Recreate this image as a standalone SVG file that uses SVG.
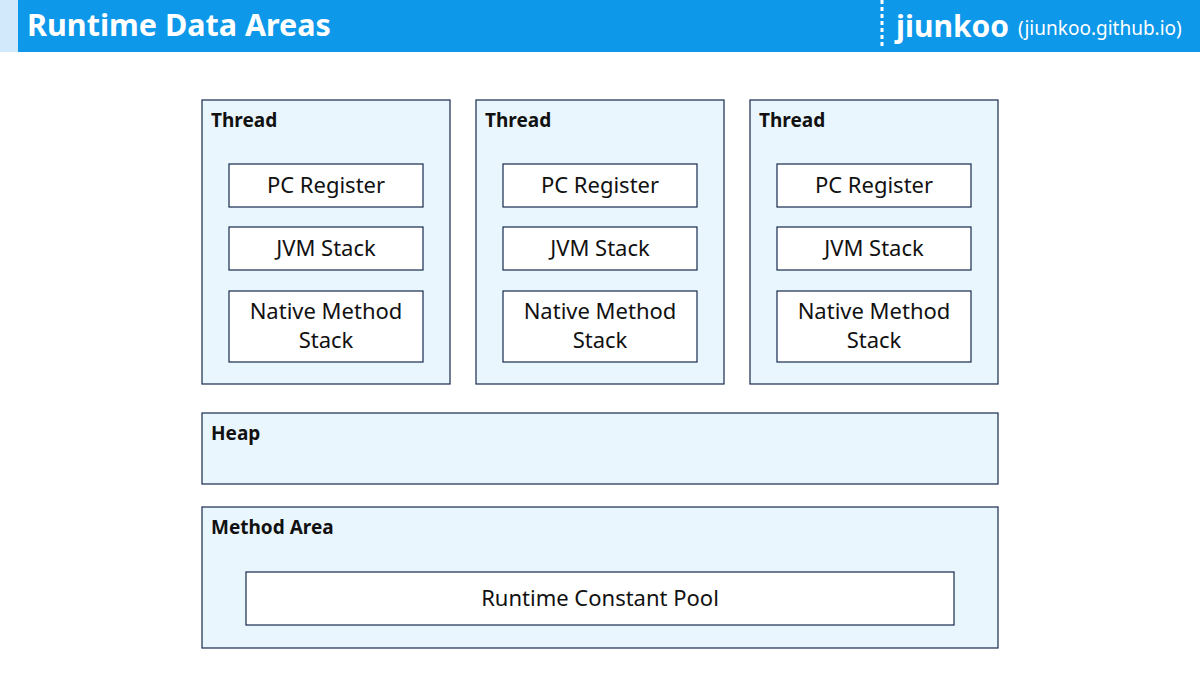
<svg xmlns="http://www.w3.org/2000/svg" width="1200" height="675" viewBox="0 0 1200 675">
  <style>
    .area { fill: #eaf6fd; stroke: #142a4d; stroke-width: 1.2; }
    .box { fill: #ffffff; stroke: #142a4d; stroke-width: 1.2; }
    .label { font-family: "Noto Sans", "Open Sans", sans-serif; font-size: 19px; font-weight: 700; fill: #111111; }
    .item { font-family: "Noto Sans", "Open Sans", sans-serif; font-size: 22px; fill: #111111; text-anchor: middle; }
    .title { font-family: "Noto Sans", "Open Sans", sans-serif; font-size: 30.5px; font-weight: 700; fill: #ffffff; }
  </style>
  <rect x="0" y="0" width="1200" height="675" fill="#ffffff"/>

  <!-- header bar -->
  <g id="header">
    <rect x="0" y="0" width="18" height="52" fill="#d2e9fb"/>
    <rect x="18" y="0" width="1182" height="52" fill="#0d98ea"/>
    <text class="title" x="27" y="36">Runtime Data Areas</text>
    <line x1="882" y1="0" x2="882" y2="49" stroke="#ffffff" stroke-width="3" stroke-dasharray="4,3"/>
    <text x="896" y="37" font-family="Noto Sans, Open Sans, sans-serif" font-size="30" font-weight="700" fill="#ffffff">jiunkoo</text>
    <text x="1018" y="35" font-family="Noto Sans, Open Sans, sans-serif" font-size="19" fill="#ffffff">(jiunkoo.github.io)</text>
  </g>

  <!-- thread 1 -->
  <g id="thread1">
    <rect class="area" x="202" y="100" width="248" height="284"/>
    <text class="label" x="211" y="127">Thread</text>
    <rect class="box" x="229" y="164" width="194" height="43"/>
    <text class="item" x="326" y="193">PC Register</text>
    <rect class="box" x="229" y="227" width="194" height="43"/>
    <text class="item" x="326" y="256">JVM Stack</text>
    <rect class="box" x="229" y="291" width="194" height="71"/>
    <text class="item" x="326" y="319">Native Method</text>
    <text class="item" x="326" y="348">Stack</text>
  </g>

  <!-- thread 2 -->
  <g id="thread2">
    <rect class="area" x="476" y="100" width="248" height="284"/>
    <text class="label" x="485" y="127">Thread</text>
    <rect class="box" x="503" y="164" width="194" height="43"/>
    <text class="item" x="600" y="193">PC Register</text>
    <rect class="box" x="503" y="227" width="194" height="43"/>
    <text class="item" x="600" y="256">JVM Stack</text>
    <rect class="box" x="503" y="291" width="194" height="71"/>
    <text class="item" x="600" y="319">Native Method</text>
    <text class="item" x="600" y="348">Stack</text>
  </g>

  <!-- thread 3 -->
  <g id="thread3">
    <rect class="area" x="750" y="100" width="248" height="284"/>
    <text class="label" x="759" y="127">Thread</text>
    <rect class="box" x="777" y="164" width="194" height="43"/>
    <text class="item" x="874" y="193">PC Register</text>
    <rect class="box" x="777" y="227" width="194" height="43"/>
    <text class="item" x="874" y="256">JVM Stack</text>
    <rect class="box" x="777" y="291" width="194" height="71"/>
    <text class="item" x="874" y="319">Native Method</text>
    <text class="item" x="874" y="348">Stack</text>
  </g>

  <!-- heap -->
  <g id="heap">
    <rect class="area" x="202" y="413" width="796" height="71"/>
    <text class="label" x="211" y="440">Heap</text>
  </g>

  <!-- method area -->
  <g id="method-area">
    <rect class="area" x="202" y="507" width="796" height="141"/>
    <text class="label" x="211" y="534">Method Area</text>
    <rect class="box" x="246" y="572" width="708" height="53"/>
    <text class="item" x="600" y="606">Runtime Constant Pool</text>
  </g>

  <g id="connectors"/>
</svg>
